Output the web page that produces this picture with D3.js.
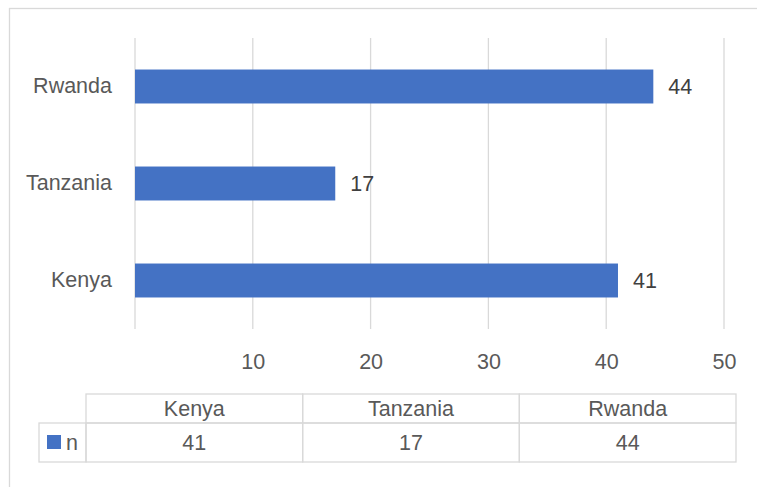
<!DOCTYPE html>
<html>
<head>
<meta charset="utf-8">
<script src="https://cdn.jsdelivr.net/npm/d3@7"></script>
<style>
  body { margin: 0; background: #fff; }
  svg { display: block; font-family: "Liberation Sans", Arial, sans-serif; }
</style>
</head>
<body>
<svg width="757" height="487"></svg>
<script>
// Datos del gráfico
const categories = ["Kenya", "Tanzania", "Rwanda"];
const values = [41, 17, 44];
const seriesName = "n";
const tickValues = [10, 20, 30, 40, 50];
const gridValues = [0, 10, 20, 30, 40, 50];

const svg = d3.select("svg");
const textColor = "#595959";
const lineColor = "#d9d9d9";
const barColor = "#4472c4";
const fontSize = 21.5;

// Borde exterior (cortado a la derecha y abajo)
svg.append("rect")
  .attr("x", 9.5).attr("y", 8.5)
  .attr("width", 800).attr("height", 500)
  .attr("fill", "none")
  .attr("stroke", lineColor)
  .attr("stroke-width", 1.3);

// Escalas
const x = d3.scaleLinear().domain([0, 50]).range([135, 724]);
const y = d3.scaleBand()
  .domain(categories.slice().reverse())
  .range([38, 329])
  .paddingInner(0.65)
  .paddingOuter(0.325);

// Líneas de la cuadrícula
svg.append("g").selectAll("line")
  .data(gridValues)
  .join("line")
  .attr("x1", d => x(d)).attr("x2", d => x(d))
  .attr("y1", 38).attr("y2", 329)
  .attr("stroke", lineColor)
  .attr("stroke-width", 1.3);

// Eje X (solo etiquetas)
const xAxis = svg.append("g")
  .attr("transform", "translate(0,361)")
  .call(d3.axisBottom(x).tickValues(tickValues).tickSize(0).tickPadding(0));
xAxis.select(".domain").remove();
xAxis.selectAll("text")
  .attr("fill", textColor)
  .attr("font-size", fontSize)
  .attr("dy", "0.35em")
  .style("font-family", "'Liberation Sans', Arial, sans-serif");

// Eje Y (etiquetas de categoría)
const yAxis = svg.append("g")
  .attr("transform", "translate(112,0)")
  .call(d3.axisLeft(y).tickSize(0).tickPadding(0));
yAxis.select(".domain").remove();
yAxis.selectAll("text")
  .attr("fill", textColor)
  .attr("font-size", fontSize)
  .style("font-family", "'Liberation Sans', Arial, sans-serif");

// Barras
svg.append("g").selectAll("rect")
  .data(categories)
  .join("rect")
  .attr("x", x(0))
  .attr("y", d => y(d))
  .attr("width", (d, i) => x(values[i]) - x(0))
  .attr("height", y.bandwidth())
  .attr("fill", barColor);

// Etiquetas de datos
svg.append("g").selectAll("text")
  .data(categories)
  .join("text")
  .attr("x", (d, i) => x(values[i]) + 15)
  .attr("y", d => y(d) + y.bandwidth() / 2)
  .attr("dy", "0.35em")
  .attr("fill", "#404040")
  .attr("font-size", fontSize)
  .text((d, i) => values[i]);

// Tabla de datos
const colX = d3.scaleBand().domain(categories).range([86, 736]);
const headTop = 394, rowTop = 423, rowBottom = 462;
const table = svg.append("g")
  .attr("stroke", lineColor)
  .attr("stroke-width", 1.3)
  .attr("fill", "none");

// Celdas del encabezado y de los valores
table.selectAll(".head")
  .data(categories)
  .join("rect")
  .attr("class", "head")
  .attr("x", d => colX(d)).attr("y", headTop)
  .attr("width", colX.bandwidth()).attr("height", rowTop - headTop);
table.selectAll(".cell")
  .data(categories)
  .join("rect")
  .attr("class", "cell")
  .attr("x", d => colX(d)).attr("y", rowTop)
  .attr("width", colX.bandwidth()).attr("height", rowBottom - rowTop);
// Celda de la leyenda
table.append("rect")
  .attr("x", 39).attr("y", rowTop)
  .attr("width", 86 - 39).attr("height", rowBottom - rowTop);

svg.append("g").selectAll("text")
  .data(categories)
  .join("text")
  .attr("x", d => colX(d) + colX.bandwidth() / 2)
  .attr("y", (headTop + rowTop) / 2)
  .attr("dy", "0.35em")
  .attr("text-anchor", "middle")
  .attr("fill", textColor)
  .attr("font-size", fontSize)
  .text(d => d);

svg.append("g").selectAll("text")
  .data(categories)
  .join("text")
  .attr("x", d => colX(d) + colX.bandwidth() / 2)
  .attr("y", (rowTop + rowBottom) / 2)
  .attr("dy", "0.35em")
  .attr("text-anchor", "middle")
  .attr("fill", textColor)
  .attr("font-size", fontSize)
  .text((d, i) => values[i]);

// Clave de leyenda
svg.append("rect")
  .attr("x", 47).attr("y", 435)
  .attr("width", 14).attr("height", 14)
  .attr("fill", barColor);
svg.append("text")
  .attr("x", 66).attr("y", (rowTop + rowBottom) / 2)
  .attr("dy", "0.35em")
  .attr("fill", textColor)
  .attr("font-size", fontSize)
  .text(seriesName);
</script>
</body>
</html>
